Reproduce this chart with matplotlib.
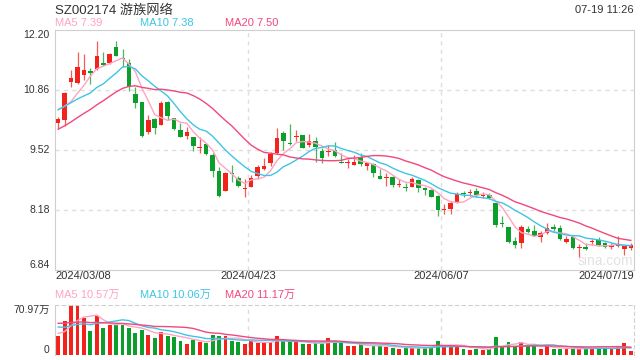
import matplotlib
matplotlib.use('Agg')
import matplotlib.pyplot as plt
import numpy as np
import pandas as pd

plt.rcParams['font.family'] = ['Liberation Sans', 'Noto Sans CJK SC']

# daily candles 2024/03/08 - 2024/07/19 (90 sessions)
opens = [10.13, 10.18, 11.04, 11.01, 11.20, 11.28, 11.32, 11.46, 11.47, 11.81,
         11.58, 11.46, 10.76, 10.59, 9.93, 10.21, 10.08, 10.60, 10.23, 9.97,
         9.84, 9.80, 9.57, 9.65, 9.41, 9.05, 8.61, 9.00, 8.89, 8.64,
         8.70, 8.95, 9.09, 9.22, 9.45, 9.89, 9.68, 9.80, 9.86, 9.63,
         9.73, 9.49, 9.47, 9.52, 9.26, 9.24, 9.19, 9.37, 9.17, 9.21,
         8.94, 8.90, 8.92, 8.73, 8.70, 8.70, 8.85, 8.67, 8.63, 8.49,
         8.19, 8.21, 8.34, 8.55, 8.57, 8.61, 8.49, 8.52, 8.33, 7.88,
         7.81, 7.49, 7.44, 7.75, 7.70, 7.58, 7.66, 7.79, 7.77, 7.46,
         7.57, 7.33, 7.36, 7.46, 7.51, 7.45, 7.36, 7.38, 7.32, 7.33]
highs = [10.25, 10.82, 11.31, 11.71, 11.66, 11.36, 11.95, 11.71, 11.69, 11.96,
         11.77, 11.55, 10.92, 10.60, 10.30, 10.23, 10.62, 10.62, 10.23, 10.12,
         10.04, 9.82, 9.82, 9.66, 9.45, 9.15, 9.03, 9.19, 8.93, 8.87,
         8.96, 9.19, 9.34, 9.48, 10.01, 9.95, 10.10, 9.97, 9.86, 9.87,
         9.80, 9.56, 9.63, 9.69, 9.45, 9.33, 9.41, 9.45, 9.25, 9.22,
         9.09, 9.00, 8.94, 8.87, 8.78, 8.92, 8.87, 8.70, 8.64, 8.52,
         8.31, 8.37, 8.59, 8.60, 8.64, 8.67, 8.58, 8.56, 8.34, 8.05,
         7.81, 7.57, 7.85, 7.82, 7.85, 7.70, 7.90, 7.87, 7.85, 7.61,
         7.60, 7.42, 7.44, 7.53, 7.57, 7.47, 7.44, 7.59, 7.38, 7.45]
lows = [9.98, 10.05, 10.92, 11.00, 11.08, 10.99, 11.30, 11.40, 11.44, 11.62,
        11.37, 10.84, 10.45, 9.80, 9.88, 9.87, 10.07, 10.19, 9.96, 9.80,
        9.76, 9.50, 9.46, 9.40, 8.91, 8.48, 8.60, 8.81, 8.70, 8.48,
        8.69, 8.87, 9.08, 9.17, 9.44, 9.52, 9.63, 9.71, 9.56, 9.58,
        9.26, 9.24, 9.39, 9.37, 9.22, 9.11, 9.18, 9.16, 9.07, 8.92,
        8.87, 8.72, 8.70, 8.69, 8.61, 8.69, 8.59, 8.52, 8.46, 8.05,
        8.09, 8.09, 8.33, 8.48, 8.49, 8.46, 8.44, 8.43, 7.81, 7.81,
        7.44, 7.33, 7.33, 7.66, 7.59, 7.46, 7.64, 7.72, 7.51, 7.45,
        7.31, 7.14, 7.29, 7.40, 7.38, 7.33, 7.32, 7.35, 7.18, 7.29]
closes = [10.21, 10.80, 11.13, 11.37, 11.31, 11.24, 11.62, 11.42, 11.66, 11.63,
          11.55, 10.93, 10.58, 9.83, 10.19, 10.02, 10.58, 10.29, 9.98, 9.82,
          9.92, 9.61, 9.59, 9.42, 9.05, 8.49, 9.00, 8.98, 8.72, 8.67,
          8.89, 9.13, 9.16, 9.43, 9.78, 9.71, 9.65, 9.84, 9.57, 9.71,
          9.58, 9.35, 9.50, 9.39, 9.24, 9.26, 9.26, 9.21, 9.24, 9.01,
          8.88, 8.92, 8.74, 8.76, 8.68, 8.87, 8.68, 8.63, 8.48, 8.17,
          8.21, 8.34, 8.54, 8.53, 8.59, 8.52, 8.52, 8.44, 7.85, 7.86,
          7.47, 7.40, 7.79, 7.68, 7.61, 7.66, 7.77, 7.76, 7.53, 7.53,
          7.33, 7.36, 7.30, 7.49, 7.40, 7.36, 7.40, 7.40, 7.38, 7.40]
# volume in 万
volumes = [27.4, 48.2, 70.97, 69.5, 53.0, 34.1, 55.8, 38.8, 42.6, 43.5,
           42.6, 37.8, 31.7, 35.5, 28.4, 24.6, 33.1, 27.4, 26.0, 19.9,
           16.1, 21.8, 18.9, 16.6, 28.4, 27.0, 27.0, 19.9, 18.0, 16.1,
           20.3, 17.5, 18.0, 18.0, 27.0, 19.9, 18.9, 18.0, 16.1, 15.1,
           16.6, 16.1, 24.6, 18.0, 16.6, 13.2, 13.2, 15.1, 10.4, 14.2,
           12.8, 11.8, 10.4, 8.5, 9.5, 10.4, 10.4, 10.4, 11.4, 19.9,
           13.2, 13.2, 13.2, 8.5, 7.6, 8.5, 7.6, 8.5, 26.0, 11.8,
           19.0, 12.0, 19.0, 13.5, 12.5, 9.0, 12.3, 8.0, 9.0, 8.5,
           9.5, 9.0, 9.5, 10.0, 9.75, 9.5, 9.5, 11.5, 16.5, 5.85]

# estimated sessions before 03/08, only used to seed the moving averages
pre_closes = [9.30, 9.38, 9.42, 9.45, 9.50, 9.55, 9.60, 9.66, 9.70, 9.94,
              10.05, 10.30, 10.55, 10.62, 10.58, 10.40, 10.63, 10.42, 10.44]
pre_volumes = [44, 52, 58, 47, 55, 49, 51, 46, 53, 48,
               52, 45, 55, 43, 48.5, 35, 30, 33, 28]

date_labels = ['2024/03/08', '2024/04/23', '2024/06/07', '2024/07/19']
price_ticks = [12.20, 10.86, 9.52, 8.18, 6.84]
vol_top = 70.97
ma_periods = [5, 10, 20]

RED = '#f2231b'
GREEN = '#0b9e2a'
MA_COLORS = ['#ffa3c2', '#3ec5e6', '#f2487c']
GRID = '#dedede'
BORDER = '#cfcfcf'
TXT = '#333333'


def moving_avg(pre, values, n):
    s = pd.Series(list(pre) + list(values), dtype=float)
    return s.rolling(n).mean().to_numpy()[len(pre):]


n = len(closes)
x = np.arange(n)
o = np.array(opens)
c = np.array(closes)
up = c >= o
colors = np.where(up, RED, GREEN)

fig = plt.figure(figsize=(6.4, 3.6), dpi=100)
ax = fig.add_axes([55 / 640, 90 / 360, 579 / 640, 240 / 360])
vax = fig.add_axes([55 / 640, 5 / 360, 579 / 640, 50 / 360])

for a in (ax, vax):
    a.set_xlim(-0.5, n - 0.5)
    a.set_xticks([])
    a.set_yticks([])
    for sp in a.spines.values():
        sp.set_color(BORDER)
        sp.set_linewidth(0.8)
    for k in (1, 2):
        a.axvline(-0.5 + n * k / 3, color=GRID, lw=1, dashes=(3, 3), zorder=0)

# price panel
ax.set_ylim(price_ticks[-1], price_ticks[0])
for t in price_ticks[1:-1]:
    ax.axhline(t, color=GRID, lw=1, dashes=(3, 3), zorder=0)

ax.text(0.95, 6.84 + 0.2, 'sina.com', transform=ax.get_yaxis_transform(),
        ha='center', va='center', fontsize=10, color='#e2e2e2', zorder=0)

body_h = np.maximum(np.abs(c - o), 0.015)
ax.vlines(x, lows, highs, colors=colors, lw=0.9, alpha=0.75, zorder=2)
ax.bar(x, body_h, bottom=np.minimum(o, c), width=0.7, color=colors, zorder=3)

price_ma = []
for p, col in zip(ma_periods, MA_COLORS):
    ma = moving_avg(pre_closes, closes, p)
    price_ma.append(ma)
    ax.plot(x, ma, color=col, lw=1.0, zorder=4)

ytr = ax.get_yaxis_transform()
for i, t in enumerate(price_ticks):
    va = 'top' if i == 0 else ('bottom' if i == len(price_ticks) - 1 else 'center')
    ax.text(-0.009, t, f'{t:.2f}', transform=ytr, ha='right', va=va,
            fontsize=7.5, color=TXT)

for lab, fx in zip(date_labels, [0, 1 / 3, 2 / 3, 1]):
    ha = 'left' if fx == 0 else ('right' if fx == 1 else 'center')
    ax.text(fx, -0.026, lab, transform=ax.transAxes, ha=ha, va='center',
            fontsize=8, color=TXT)

# volume panel
vax.set_ylim(0, vol_top)
vax.spines['top'].set_linestyle((0, (3, 3)))
vax.spines['right'].set_linestyle((0, (3, 3)))
vax.spines['bottom'].set_visible(False)
vax.bar(x, volumes, width=0.6, color=colors, zorder=2)
vol_ma = []
for p, col in zip(ma_periods, MA_COLORS):
    ma = moving_avg(pre_volumes, volumes, p)
    vol_ma.append(ma)
    vax.plot(x, ma, color=col, lw=1.0, zorder=3)

vtr = vax.get_yaxis_transform()
vax.text(-0.009, vol_top, f'{vol_top:.2f}万', transform=vtr, ha='right',
         va='top', fontsize=7.5, color=TXT)
vax.text(-0.009, 0, '0', transform=vtr, ha='right', va='bottom',
         fontsize=7.5, color=TXT)

# header texts
fig.text(55 / 640, 1 - 10 / 360, 'SZ002174 游族网络', ha='left', va='center',
         fontsize=9.5, color=TXT)
fig.text(634 / 640, 1 - 10 / 360, '07-19 11:26', ha='right', va='center',
         fontsize=8, color=TXT)

for k, (p, col) in enumerate(zip(ma_periods, MA_COLORS)):
    fig.text((55 + 85 * k) / 640, 1 - 23 / 360, f'MA{p} {price_ma[k][-1]:.2f}',
             ha='left', va='center', fontsize=8, color=col)
    fig.text((55 + 85 * k) / 640, 1 - 295 / 360, f'MA{p} {vol_ma[k][-1]:.2f}万',
             ha='left', va='center', fontsize=8, color=col)

fig.savefig('out.png', dpi=100, facecolor='white')
